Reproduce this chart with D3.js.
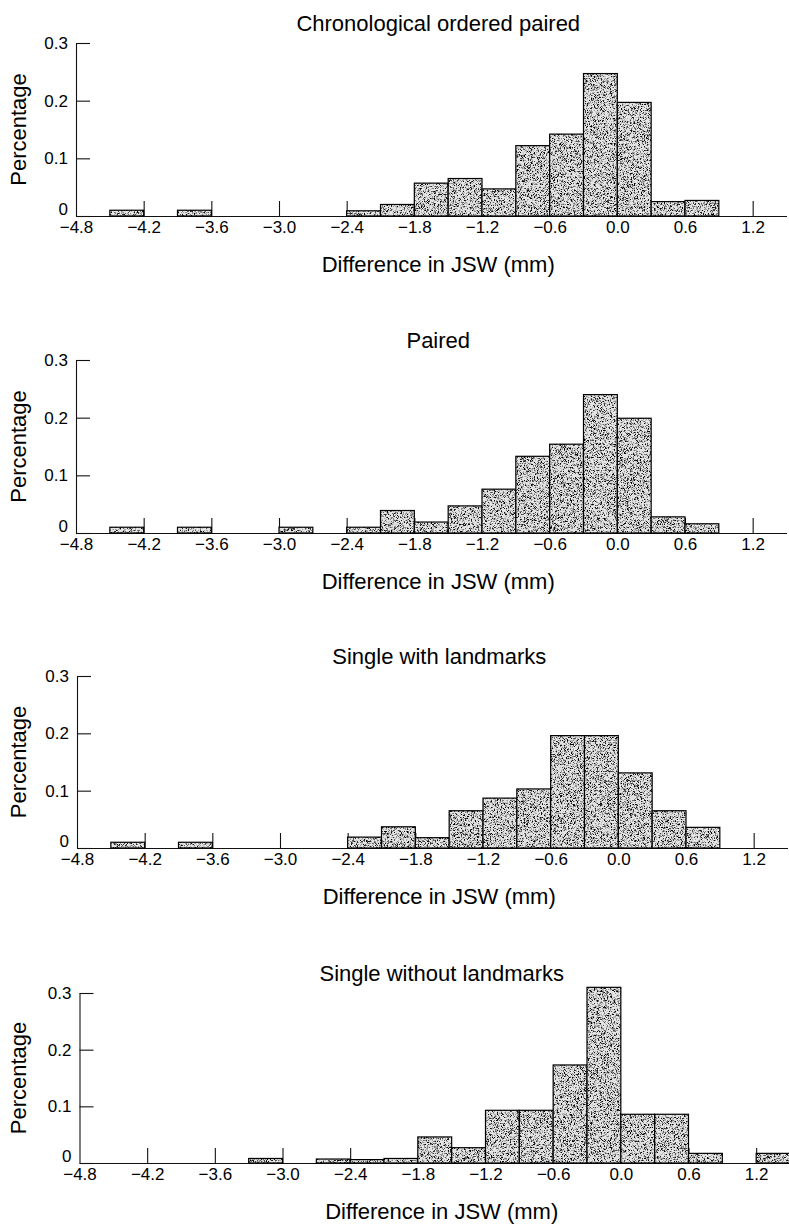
<!DOCTYPE html>
<html>
<head>
<meta charset="utf-8">
<script src="https://cdn.jsdelivr.net/npm/d3@7"></script>
<style>
  body { margin: 0; background: #fff; }
  svg text { font-family: "Liberation Sans", Arial, sans-serif; fill: #000; }
</style>
</head>
<body>
<script>
(function() {

    const width = 789;
    const height = 1224;

    // left edges of the 0.3 mm bins
    const binStarts = [-4.8, -4.5, -4.2, -3.9, -3.6, -3.3, -3.0, -2.7, -2.4, -2.1, -1.8,
                       -1.5, -1.2, -0.9, -0.6, -0.3, 0.0, 0.3, 0.6, 0.9, 1.2];
    const binWidth = 0.3;

    const titles = ["Chronological ordered paired", "Paired", "Single with landmarks", "Single without landmarks"];

    const chronoPaired = [0, 0.01, 0, 0.01, 0, 0, 0, 0, 0.009, 0.02, 0.057,
                          0.065, 0.047, 0.122, 0.142, 0.247, 0.197, 0.025, 0.027, 0, 0];
    const paired = [0, 0.01, 0, 0.01, 0, 0, 0.01, 0, 0.01, 0.039, 0.019,
                    0.047, 0.076, 0.133, 0.154, 0.24, 0.199, 0.028, 0.016, 0, 0];
    const singleWith = [0, 0.01, 0, 0.01, 0, 0, 0, 0, 0.019, 0.037, 0.018,
                        0.065, 0.087, 0.103, 0.196, 0.196, 0.131, 0.065, 0.036, 0, 0];
    const singleWithout = [0, 0, 0, 0, 0, 0.008, 0, 0.007, 0.006, 0.008, 0.046,
                           0.027, 0.093, 0.093, 0.173, 0.31, 0.086, 0.086, 0.017, 0, 0.017];

    const series = [chronoPaired, paired, singleWith, singleWithout];

    const xTicks = [-4.8, -4.2, -3.6, -3.0, -2.4, -1.8, -1.2, -0.6, 0.0, 0.6, 1.2];
    const yTicks = [0, 0.1, 0.2, 0.3];

    // panel placement (0.3 line, zero line, left and right edge)
    const panels = [
        {top: 43,  zero: 216,  left: 76,   right: 786.5},
        {top: 360, zero: 533,  left: 76,   right: 786.5},
        {top: 676, zero: 848,  left: 77,   right: 787.5},
        {top: 993, zero: 1163, left: 79.5, right: 790}
    ];

    const svg = d3.select("body")
        .append("svg")
        .attr("width", width)
        .attr("height", height);

    // stipple texture for the bars
    const filter = svg.append("defs").append("filter")
        .attr("id", "grain")
        .attr("x", 0).attr("y", 0).attr("width", 1).attr("height", 1)
        .attr("color-interpolation-filters", "sRGB");
    filter.append("feTurbulence")
        .attr("type", "fractalNoise")
        .attr("baseFrequency", 1.7)
        .attr("numOctaves", 1)
        .attr("seed", 4)
        .attr("result", "n");
    filter.append("feColorMatrix")
        .attr("in", "n")
        .attr("type", "matrix")
        .attr("values", "0 0 0 0 0  0 0 0 0 0  0 0 0 0 0  5 0 0 0 -2.45")
        .attr("result", "a");
    filter.append("feComposite")
        .attr("in", "a")
        .attr("in2", "SourceGraphic")
        .attr("operator", "in");

    const fmtX = d3.format(".1f");

    series.forEach(function(values, i) {
        const p = panels[i];

        let x = d3.scaleLinear()
            .domain([-4.8, 1.5])
            .range([p.left, p.right]);

        let y = d3.scaleLinear()
            .domain([0, 0.3])
            .range([p.zero, p.top]);

        let g = svg.append("g").attr("class", "panel");

        // axes first so the bars hide the ticks they overlap
        let xAxis = d3.axisBottom(x)
            .tickValues(xTicks)
            .tickFormat(fmtX)
            .tickSizeInner(-15)
            .tickSizeOuter(0)
            .tickPadding(5);

        g.append("g")
            .attr("transform", "translate(0," + p.zero + ")")
            .call(xAxis)
            .call(s => s.selectAll("text").style("font-size", "17px"))
            .call(s => s.selectAll("path, line").attr("stroke", "#111").attr("stroke-width", 1.1))
            .call(s => s.selectAll(".tick").filter(d => d === -4.8).select("line").remove());

        let yAxis = d3.axisLeft(y)
            .tickValues(yTicks)
            .tickFormat(d => d === 0 ? "0" : d.toFixed(1))
            .tickSizeInner(-14)
            .tickSizeOuter(0)
            .tickPadding(8);

        g.append("g")
            .attr("transform", "translate(" + p.left + ",0)")
            .call(yAxis)
            .call(s => s.selectAll("text").style("font-size", "17px"))
            .call(s => s.selectAll(".tick").filter(d => d === 0).select("text").attr("dy", "-2px"))
            .call(s => s.selectAll("path, line").attr("stroke", "#111").attr("stroke-width", 1.1));

        // bars
        let data = binStarts.map((b, j) => ({x0: b, x1: b + binWidth, v: values[j]}))
            .filter(d => d.v > 0);

        let bar = g.selectAll(".bar")
            .data(data)
            .enter()
            .append("g")
            .attr("class", "bar");

        bar.append("rect")
            .attr("x", d => x(d.x0))
            .attr("y", d => y(d.v))
            .attr("width", d => x(d.x1) - x(d.x0))
            .attr("height", d => y(0) - y(d.v))
            .attr("fill", "#e4e4e4");

        bar.append("rect")
            .attr("x", d => x(d.x0))
            .attr("y", d => y(d.v))
            .attr("width", d => x(d.x1) - x(d.x0))
            .attr("height", d => y(0) - y(d.v))
            .attr("fill", "#000")
            .attr("filter", "url(#grain)");

        bar.append("rect")
            .attr("x", d => x(d.x0))
            .attr("y", d => y(d.v))
            .attr("width", d => x(d.x1) - x(d.x0))
            .attr("height", d => y(0) - y(d.v))
            .attr("fill", "none")
            .attr("stroke", "#000")
            .attr("stroke-width", 1.2);

        let cx = (p.left + p.right) / 2 + 7;

        g.append("text")
            .attr("x", cx)
            .attr("y", p.top - 12)
            .attr("text-anchor", "middle")
            .style("font-size", "22px")
            .text(titles[i]);

        g.append("text")
            .attr("x", cx)
            .attr("y", p.zero + 56)
            .attr("text-anchor", "middle")
            .style("font-size", "22px")
            .text("Difference in JSW (mm)");

        g.append("text")
            .attr("transform", "translate(26," + ((p.top + p.zero) / 2) + ") rotate(-90)")
            .attr("text-anchor", "middle")
            .style("font-size", "22px")
            .text("Percentage");
    });

})();
</script>
</body>
</html>
